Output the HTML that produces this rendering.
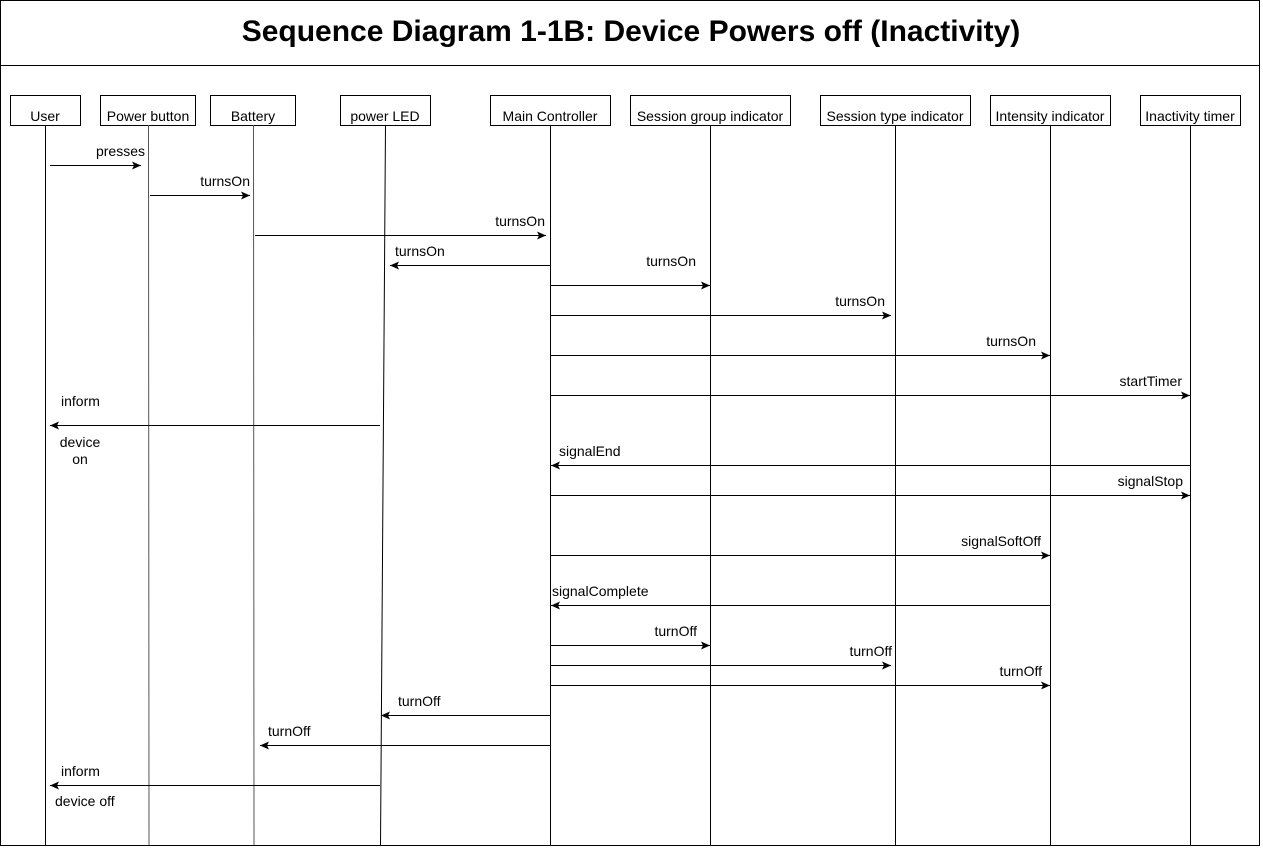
<!DOCTYPE html>
<html><head><meta charset="utf-8"><style>html,body{margin:0;padding:0;background:#fff}</style></head><body>
<svg width="1263" height="848" xmlns="http://www.w3.org/2000/svg" font-family="Liberation Sans, Arial, sans-serif" font-size="14">
<defs><marker id="a" markerWidth="10" markerHeight="8" refX="9" refY="4" orient="auto" markerUnits="userSpaceOnUse"><path d="M0,0 L9,4 L0,8 L2,4 z" fill="#000"/></marker></defs>
<rect x="0.5" y="0.5" width="1259" height="845" fill="#fff" stroke="#000"/>
<line x1="0" y1="65.5" x2="1260" y2="65.5" stroke="#000"/>
<text x="631" y="41" font-size="30" font-weight="bold" text-anchor="middle">Sequence Diagram 1-1B: Device Powers off (Inactivity)</text>
<g stroke="#000" fill="#fff">
<rect x="10.5" y="95.5" width="70" height="30"/>
<rect x="100.5" y="95.5" width="95" height="30"/>
<rect x="210.5" y="95.5" width="85" height="30"/>
<rect x="340.5" y="95.5" width="90" height="30"/>
<rect x="490.5" y="95.5" width="120" height="30"/>
<rect x="630.5" y="95.5" width="160" height="30"/>
<rect x="820.5" y="95.5" width="150" height="30"/>
<rect x="990.5" y="95.5" width="120" height="30"/>
<rect x="1140.5" y="95.5" width="100" height="30"/>
</g>
<g text-anchor="middle">
<text x="45" y="121">User</text><text x="148" y="121">Power button</text><text x="253" y="121">Battery</text>
<text x="385" y="121">power LED</text><text x="550" y="121">Main Controller</text><text x="710" y="121">Session group indicator</text>
<text x="895" y="121">Session type indicator</text><text x="1050" y="121">Intensity indicator</text><text x="1190" y="121">Inactivity timer</text>
</g>
<g stroke="#000">
<line x1="45.5" y1="125" x2="45.5" y2="845"/>
<line x1="148.5" y1="125" x2="149" y2="845" stroke="#555"/>
<line x1="253.5" y1="125" x2="254" y2="845" stroke="#555"/>
<line x1="385.5" y1="125" x2="380.5" y2="845"/>
<line x1="550.5" y1="125" x2="550.5" y2="845"/>
<line x1="710.5" y1="125" x2="710.5" y2="845"/>
<line x1="895.5" y1="125" x2="895.5" y2="845"/>
<line x1="1050.5" y1="125" x2="1050.5" y2="845"/>
<line x1="1190.5" y1="125" x2="1190.5" y2="845"/>
</g>
<g stroke="#000" marker-end="url(#a)">
<line x1="50" y1="165.5" x2="141" y2="165.5"/>
<line x1="150" y1="195.5" x2="250" y2="195.5"/>
<line x1="255" y1="235.5" x2="546" y2="235.5"/>
<line x1="550" y1="265.5" x2="390" y2="265.5"/>
<line x1="550" y1="285.5" x2="710" y2="285.5"/>
<line x1="550" y1="315.5" x2="891" y2="315.5"/>
<line x1="550" y1="355.5" x2="1050" y2="355.5"/>
<line x1="550" y1="395.5" x2="1190" y2="395.5"/>
<line x1="380" y1="425.5" x2="50" y2="425.5"/>
<line x1="1190" y1="465.5" x2="551" y2="465.5"/>
<line x1="550" y1="495.5" x2="1190" y2="495.5"/>
<line x1="550" y1="555.5" x2="1050" y2="555.5"/>
<line x1="1050" y1="605.5" x2="551" y2="605.5"/>
<line x1="550" y1="645.5" x2="710" y2="645.5"/>
<line x1="550" y1="665.5" x2="891" y2="665.5"/>
<line x1="550" y1="685.5" x2="1050" y2="685.5"/>
<line x1="550" y1="715.5" x2="381" y2="715.5"/>
<line x1="550" y1="745.5" x2="260" y2="745.5"/>
<line x1="380" y1="785.5" x2="50" y2="785.5"/>
</g>
<g text-anchor="end">
<text x="145" y="156">presses</text><text x="250" y="186">turnsOn</text><text x="545" y="226">turnsOn</text>
<text x="696" y="266">turnsOn</text><text x="885" y="306">turnsOn</text><text x="1036" y="346">turnsOn</text>
<text x="1182" y="386">startTimer</text><text x="1183" y="486">signalStop</text><text x="1041" y="546">signalSoftOff</text>
<text x="697" y="636">turnOff</text><text x="892" y="656">turnOff</text><text x="1042" y="676">turnOff</text>
</g>
<text x="395" y="256">turnsOn</text>
<text x="61" y="406">inform</text>
<text x="80" y="447" text-anchor="middle">device</text><text x="80" y="464" text-anchor="middle">on</text>
<text x="559" y="456">signalEnd</text>
<text x="552" y="596">signalComplete</text>
<text x="398" y="706">turnOff</text>
<text x="268" y="736">turnOff</text>
<text x="61" y="776">inform</text>
<text x="55" y="806">device off</text>
</svg>
</body></html>
